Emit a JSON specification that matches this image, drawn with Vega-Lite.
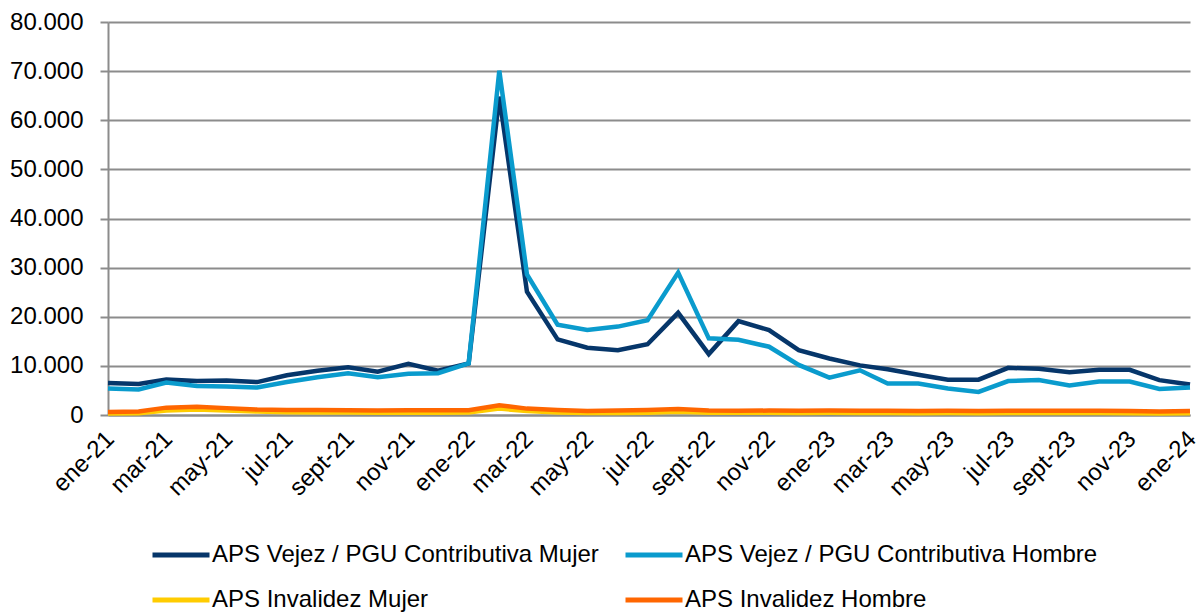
{
  "$schema": "https://vega.github.io/schema/vega-lite/v6.json",
  "width": 1095,
  "height": 393,
  "autosize": {"type": "none"},
  "padding": {"left": 108, "top": 22, "right": 0, "bottom": 200},
  "background": "white",
  "config": {
    "font": "Liberation Sans",
    "view": {"stroke": null},
    "axis": {"labelFont": "Liberation Sans", "labelFontSize": 24, "labelColor": "#000000", "domainColor": "#8C8C8C", "domainWidth": 2, "tickColor": "#8C8C8C", "tickWidth": 2, "gridColor": "#8C8C8C", "gridWidth": 2}
  },
  "data": {
    "values": [
      {"mes": "2021-01-01", "serie": "APS Vejez / PGU Contributiva Mujer", "valor": 6500},
      {"mes": "2021-02-01", "serie": "APS Vejez / PGU Contributiva Mujer", "valor": 6300},
      {"mes": "2021-03-01", "serie": "APS Vejez / PGU Contributiva Mujer", "valor": 7200},
      {"mes": "2021-04-01", "serie": "APS Vejez / PGU Contributiva Mujer", "valor": 6900},
      {"mes": "2021-05-01", "serie": "APS Vejez / PGU Contributiva Mujer", "valor": 7000},
      {"mes": "2021-06-01", "serie": "APS Vejez / PGU Contributiva Mujer", "valor": 6700},
      {"mes": "2021-07-01", "serie": "APS Vejez / PGU Contributiva Mujer", "valor": 8100},
      {"mes": "2021-08-01", "serie": "APS Vejez / PGU Contributiva Mujer", "valor": 9000},
      {"mes": "2021-09-01", "serie": "APS Vejez / PGU Contributiva Mujer", "valor": 9700},
      {"mes": "2021-10-01", "serie": "APS Vejez / PGU Contributiva Mujer", "valor": 8800},
      {"mes": "2021-11-01", "serie": "APS Vejez / PGU Contributiva Mujer", "valor": 10400},
      {"mes": "2021-12-01", "serie": "APS Vejez / PGU Contributiva Mujer", "valor": 9000},
      {"mes": "2022-01-01", "serie": "APS Vejez / PGU Contributiva Mujer", "valor": 10500},
      {"mes": "2022-02-01", "serie": "APS Vejez / PGU Contributiva Mujer", "valor": 64800},
      {"mes": "2022-03-01", "serie": "APS Vejez / PGU Contributiva Mujer", "valor": 25100},
      {"mes": "2022-04-01", "serie": "APS Vejez / PGU Contributiva Mujer", "valor": 15400},
      {"mes": "2022-05-01", "serie": "APS Vejez / PGU Contributiva Mujer", "valor": 13700},
      {"mes": "2022-06-01", "serie": "APS Vejez / PGU Contributiva Mujer", "valor": 13200},
      {"mes": "2022-07-01", "serie": "APS Vejez / PGU Contributiva Mujer", "valor": 14400},
      {"mes": "2022-08-01", "serie": "APS Vejez / PGU Contributiva Mujer", "valor": 20800},
      {"mes": "2022-09-01", "serie": "APS Vejez / PGU Contributiva Mujer", "valor": 12400},
      {"mes": "2022-10-01", "serie": "APS Vejez / PGU Contributiva Mujer", "valor": 19100},
      {"mes": "2022-11-01", "serie": "APS Vejez / PGU Contributiva Mujer", "valor": 17300},
      {"mes": "2022-12-01", "serie": "APS Vejez / PGU Contributiva Mujer", "valor": 13200},
      {"mes": "2023-01-01", "serie": "APS Vejez / PGU Contributiva Mujer", "valor": 11500},
      {"mes": "2023-02-01", "serie": "APS Vejez / PGU Contributiva Mujer", "valor": 10100},
      {"mes": "2023-03-01", "serie": "APS Vejez / PGU Contributiva Mujer", "valor": 9300},
      {"mes": "2023-04-01", "serie": "APS Vejez / PGU Contributiva Mujer", "valor": 8200},
      {"mes": "2023-05-01", "serie": "APS Vejez / PGU Contributiva Mujer", "valor": 7200},
      {"mes": "2023-06-01", "serie": "APS Vejez / PGU Contributiva Mujer", "valor": 7200},
      {"mes": "2023-07-01", "serie": "APS Vejez / PGU Contributiva Mujer", "valor": 9600},
      {"mes": "2023-08-01", "serie": "APS Vejez / PGU Contributiva Mujer", "valor": 9400},
      {"mes": "2023-09-01", "serie": "APS Vejez / PGU Contributiva Mujer", "valor": 8700},
      {"mes": "2023-10-01", "serie": "APS Vejez / PGU Contributiva Mujer", "valor": 9200},
      {"mes": "2023-11-01", "serie": "APS Vejez / PGU Contributiva Mujer", "valor": 9200},
      {"mes": "2023-12-01", "serie": "APS Vejez / PGU Contributiva Mujer", "valor": 7100},
      {"mes": "2024-01-01", "serie": "APS Vejez / PGU Contributiva Mujer", "valor": 6200},

      {"mes": "2021-01-01", "serie": "APS Vejez / PGU Contributiva Hombre", "valor": 5400},
      {"mes": "2021-02-01", "serie": "APS Vejez / PGU Contributiva Hombre", "valor": 5200},
      {"mes": "2021-03-01", "serie": "APS Vejez / PGU Contributiva Hombre", "valor": 6600},
      {"mes": "2021-04-01", "serie": "APS Vejez / PGU Contributiva Hombre", "valor": 5900},
      {"mes": "2021-05-01", "serie": "APS Vejez / PGU Contributiva Hombre", "valor": 5800},
      {"mes": "2021-06-01", "serie": "APS Vejez / PGU Contributiva Hombre", "valor": 5600},
      {"mes": "2021-07-01", "serie": "APS Vejez / PGU Contributiva Hombre", "valor": 6700},
      {"mes": "2021-08-01", "serie": "APS Vejez / PGU Contributiva Hombre", "valor": 7700},
      {"mes": "2021-09-01", "serie": "APS Vejez / PGU Contributiva Hombre", "valor": 8500},
      {"mes": "2021-10-01", "serie": "APS Vejez / PGU Contributiva Hombre", "valor": 7700},
      {"mes": "2021-11-01", "serie": "APS Vejez / PGU Contributiva Hombre", "valor": 8400},
      {"mes": "2021-12-01", "serie": "APS Vejez / PGU Contributiva Hombre", "valor": 8500},
      {"mes": "2022-01-01", "serie": "APS Vejez / PGU Contributiva Hombre", "valor": 10500},
      {"mes": "2022-02-01", "serie": "APS Vejez / PGU Contributiva Hombre", "valor": 70100},
      {"mes": "2022-03-01", "serie": "APS Vejez / PGU Contributiva Hombre", "valor": 28600},
      {"mes": "2022-04-01", "serie": "APS Vejez / PGU Contributiva Hombre", "valor": 18400},
      {"mes": "2022-05-01", "serie": "APS Vejez / PGU Contributiva Hombre", "valor": 17300},
      {"mes": "2022-06-01", "serie": "APS Vejez / PGU Contributiva Hombre", "valor": 18000},
      {"mes": "2022-07-01", "serie": "APS Vejez / PGU Contributiva Hombre", "valor": 19300},
      {"mes": "2022-08-01", "serie": "APS Vejez / PGU Contributiva Hombre", "valor": 29000},
      {"mes": "2022-09-01", "serie": "APS Vejez / PGU Contributiva Hombre", "valor": 15600},
      {"mes": "2022-10-01", "serie": "APS Vejez / PGU Contributiva Hombre", "valor": 15300},
      {"mes": "2022-11-01", "serie": "APS Vejez / PGU Contributiva Hombre", "valor": 13900},
      {"mes": "2022-12-01", "serie": "APS Vejez / PGU Contributiva Hombre", "valor": 10200},
      {"mes": "2023-01-01", "serie": "APS Vejez / PGU Contributiva Hombre", "valor": 7600},
      {"mes": "2023-02-01", "serie": "APS Vejez / PGU Contributiva Hombre", "valor": 9100},
      {"mes": "2023-03-01", "serie": "APS Vejez / PGU Contributiva Hombre", "valor": 6400},
      {"mes": "2023-04-01", "serie": "APS Vejez / PGU Contributiva Hombre", "valor": 6400},
      {"mes": "2023-05-01", "serie": "APS Vejez / PGU Contributiva Hombre", "valor": 5400},
      {"mes": "2023-06-01", "serie": "APS Vejez / PGU Contributiva Hombre", "valor": 4700},
      {"mes": "2023-07-01", "serie": "APS Vejez / PGU Contributiva Hombre", "valor": 6900},
      {"mes": "2023-08-01", "serie": "APS Vejez / PGU Contributiva Hombre", "valor": 7100},
      {"mes": "2023-09-01", "serie": "APS Vejez / PGU Contributiva Hombre", "valor": 6000},
      {"mes": "2023-10-01", "serie": "APS Vejez / PGU Contributiva Hombre", "valor": 6800},
      {"mes": "2023-11-01", "serie": "APS Vejez / PGU Contributiva Hombre", "valor": 6800},
      {"mes": "2023-12-01", "serie": "APS Vejez / PGU Contributiva Hombre", "valor": 5300},
      {"mes": "2024-01-01", "serie": "APS Vejez / PGU Contributiva Hombre", "valor": 5600},

      {"mes": "2021-01-01", "serie": "APS Invalidez Mujer", "valor": 300},
      {"mes": "2021-02-01", "serie": "APS Invalidez Mujer", "valor": 350},
      {"mes": "2021-03-01", "serie": "APS Invalidez Mujer", "valor": 900},
      {"mes": "2021-04-01", "serie": "APS Invalidez Mujer", "valor": 1100},
      {"mes": "2021-05-01", "serie": "APS Invalidez Mujer", "valor": 900},
      {"mes": "2021-06-01", "serie": "APS Invalidez Mujer", "valor": 700},
      {"mes": "2021-07-01", "serie": "APS Invalidez Mujer", "valor": 550},
      {"mes": "2021-08-01", "serie": "APS Invalidez Mujer", "valor": 500},
      {"mes": "2021-09-01", "serie": "APS Invalidez Mujer", "valor": 500},
      {"mes": "2021-10-01", "serie": "APS Invalidez Mujer", "valor": 450},
      {"mes": "2021-11-01", "serie": "APS Invalidez Mujer", "valor": 450},
      {"mes": "2021-12-01", "serie": "APS Invalidez Mujer", "valor": 450},
      {"mes": "2022-01-01", "serie": "APS Invalidez Mujer", "valor": 500},
      {"mes": "2022-02-01", "serie": "APS Invalidez Mujer", "valor": 1300},
      {"mes": "2022-03-01", "serie": "APS Invalidez Mujer", "valor": 800},
      {"mes": "2022-04-01", "serie": "APS Invalidez Mujer", "valor": 500},
      {"mes": "2022-05-01", "serie": "APS Invalidez Mujer", "valor": 400},
      {"mes": "2022-06-01", "serie": "APS Invalidez Mujer", "valor": 400},
      {"mes": "2022-07-01", "serie": "APS Invalidez Mujer", "valor": 450},
      {"mes": "2022-08-01", "serie": "APS Invalidez Mujer", "valor": 650},
      {"mes": "2022-09-01", "serie": "APS Invalidez Mujer", "valor": 450},
      {"mes": "2022-10-01", "serie": "APS Invalidez Mujer", "valor": 450},
      {"mes": "2022-11-01", "serie": "APS Invalidez Mujer", "valor": 450},
      {"mes": "2022-12-01", "serie": "APS Invalidez Mujer", "valor": 400},
      {"mes": "2023-01-01", "serie": "APS Invalidez Mujer", "valor": 450},
      {"mes": "2023-02-01", "serie": "APS Invalidez Mujer", "valor": 400},
      {"mes": "2023-03-01", "serie": "APS Invalidez Mujer", "valor": 400},
      {"mes": "2023-04-01", "serie": "APS Invalidez Mujer", "valor": 350},
      {"mes": "2023-05-01", "serie": "APS Invalidez Mujer", "valor": 400},
      {"mes": "2023-06-01", "serie": "APS Invalidez Mujer", "valor": 350},
      {"mes": "2023-07-01", "serie": "APS Invalidez Mujer", "valor": 400},
      {"mes": "2023-08-01", "serie": "APS Invalidez Mujer", "valor": 400},
      {"mes": "2023-09-01", "serie": "APS Invalidez Mujer", "valor": 400},
      {"mes": "2023-10-01", "serie": "APS Invalidez Mujer", "valor": 400},
      {"mes": "2023-11-01", "serie": "APS Invalidez Mujer", "valor": 350},
      {"mes": "2023-12-01", "serie": "APS Invalidez Mujer", "valor": 300},
      {"mes": "2024-01-01", "serie": "APS Invalidez Mujer", "valor": 350},

      {"mes": "2021-01-01", "serie": "APS Invalidez Hombre", "valor": 600},
      {"mes": "2021-02-01", "serie": "APS Invalidez Hombre", "valor": 700},
      {"mes": "2021-03-01", "serie": "APS Invalidez Hombre", "valor": 1500},
      {"mes": "2021-04-01", "serie": "APS Invalidez Hombre", "valor": 1700},
      {"mes": "2021-05-01", "serie": "APS Invalidez Hombre", "valor": 1400},
      {"mes": "2021-06-01", "serie": "APS Invalidez Hombre", "valor": 1100},
      {"mes": "2021-07-01", "serie": "APS Invalidez Hombre", "valor": 1000},
      {"mes": "2021-08-01", "serie": "APS Invalidez Hombre", "valor": 1000},
      {"mes": "2021-09-01", "serie": "APS Invalidez Hombre", "valor": 950},
      {"mes": "2021-10-01", "serie": "APS Invalidez Hombre", "valor": 900},
      {"mes": "2021-11-01", "serie": "APS Invalidez Hombre", "valor": 950},
      {"mes": "2021-12-01", "serie": "APS Invalidez Hombre", "valor": 950},
      {"mes": "2022-01-01", "serie": "APS Invalidez Hombre", "valor": 950},
      {"mes": "2022-02-01", "serie": "APS Invalidez Hombre", "valor": 2000},
      {"mes": "2022-03-01", "serie": "APS Invalidez Hombre", "valor": 1300},
      {"mes": "2022-04-01", "serie": "APS Invalidez Hombre", "valor": 1000},
      {"mes": "2022-05-01", "serie": "APS Invalidez Hombre", "valor": 800},
      {"mes": "2022-06-01", "serie": "APS Invalidez Hombre", "valor": 900},
      {"mes": "2022-07-01", "serie": "APS Invalidez Hombre", "valor": 1000},
      {"mes": "2022-08-01", "serie": "APS Invalidez Hombre", "valor": 1200},
      {"mes": "2022-09-01", "serie": "APS Invalidez Hombre", "valor": 900},
      {"mes": "2022-10-01", "serie": "APS Invalidez Hombre", "valor": 850},
      {"mes": "2022-11-01", "serie": "APS Invalidez Hombre", "valor": 900},
      {"mes": "2022-12-01", "serie": "APS Invalidez Hombre", "valor": 850},
      {"mes": "2023-01-01", "serie": "APS Invalidez Hombre", "valor": 900},
      {"mes": "2023-02-01", "serie": "APS Invalidez Hombre", "valor": 850},
      {"mes": "2023-03-01", "serie": "APS Invalidez Hombre", "valor": 850},
      {"mes": "2023-04-01", "serie": "APS Invalidez Hombre", "valor": 800},
      {"mes": "2023-05-01", "serie": "APS Invalidez Hombre", "valor": 850},
      {"mes": "2023-06-01", "serie": "APS Invalidez Hombre", "valor": 800},
      {"mes": "2023-07-01", "serie": "APS Invalidez Hombre", "valor": 850},
      {"mes": "2023-08-01", "serie": "APS Invalidez Hombre", "valor": 850},
      {"mes": "2023-09-01", "serie": "APS Invalidez Hombre", "valor": 850},
      {"mes": "2023-10-01", "serie": "APS Invalidez Hombre", "valor": 850},
      {"mes": "2023-11-01", "serie": "APS Invalidez Hombre", "valor": 800},
      {"mes": "2023-12-01", "serie": "APS Invalidez Hombre", "valor": 700},
      {"mes": "2024-01-01", "serie": "APS Invalidez Hombre", "valor": 800}
    ]
  },
  "mark": {"type": "line", "strokeWidth": 4.5, "strokeJoin": "miter", "strokeCap": "butt"},
  "encoding": {
    "x": {
      "field": "mes",
      "type": "temporal",
      "scale": {"type": "utc", "nice": false, "range": [0, 1082]},
      "axis": {
        "title": null,
        "values": [
          {"year": 2021, "month": 1, "date": 1, "utc": true},
          {"year": 2021, "month": 3, "date": 1, "utc": true},
          {"year": 2021, "month": 5, "date": 1, "utc": true},
          {"year": 2021, "month": 7, "date": 1, "utc": true},
          {"year": 2021, "month": 9, "date": 1, "utc": true},
          {"year": 2021, "month": 11, "date": 1, "utc": true},
          {"year": 2022, "month": 1, "date": 1, "utc": true},
          {"year": 2022, "month": 3, "date": 1, "utc": true},
          {"year": 2022, "month": 5, "date": 1, "utc": true},
          {"year": 2022, "month": 7, "date": 1, "utc": true},
          {"year": 2022, "month": 9, "date": 1, "utc": true},
          {"year": 2022, "month": 11, "date": 1, "utc": true},
          {"year": 2023, "month": 1, "date": 1, "utc": true},
          {"year": 2023, "month": 3, "date": 1, "utc": true},
          {"year": 2023, "month": 5, "date": 1, "utc": true},
          {"year": 2023, "month": 7, "date": 1, "utc": true},
          {"year": 2023, "month": 9, "date": 1, "utc": true},
          {"year": 2023, "month": 11, "date": 1, "utc": true},
          {"year": 2024, "month": 1, "date": 1, "utc": true}
        ],
        "labelExpr": "['ene','feb','mar','abr','may','jun','jul','ago','sept','oct','nov','dic'][utcmonth(datum.value)] + '-' + utcFormat(datum.value, '%y')",
        "labelAngle": -45,
        "labelAlign": "right",
        "labelBaseline": "middle",
        "ticks": false,
        "grid": false,
        "labelPadding": 20,
        "labelOffset": 2,
        "labelOverlap": false,
        "labelFlush": false
      }
    },
    "y": {
      "field": "valor",
      "type": "quantitative",
      "scale": {"domain": [0, 80000], "nice": false},
      "axis": {
        "title": null,
        "values": [0, 10000, 20000, 30000, 40000, 50000, 60000, 70000, 80000],
        "labelExpr": "replace(format(datum.value, ',d'), ',', '.')",
        "tickSize": 8,
        "labelPadding": 17,
        "grid": true
      }
    },
    "color": {
      "field": "serie",
      "type": "nominal",
      "scale": {
        "domain": ["APS Vejez / PGU Contributiva Mujer", "APS Vejez / PGU Contributiva Hombre", "APS Invalidez Mujer", "APS Invalidez Hombre"],
        "range": ["#06366A", "#0A9BCD", "#FFCC00", "#FF6600"]
      },
      "legend": {
        "title": null,
        "orient": "none",
        "legendX": 42,
        "legendY": 502,
        "direction": "horizontal",
        "columns": 2,
        "symbolType": "stroke",
        "symbolSize": 3249,
        "symbolStrokeWidth": 5,
        "labelFontSize": 24,
        "labelFont": "Liberation Sans",
        "labelColor": "#000000",
        "labelLimit": 0,
        "labelOffset": 0,
        "columnPadding": 16,
        "rowPadding": 2,
        "padding": 0
      }
    }
  }
}
